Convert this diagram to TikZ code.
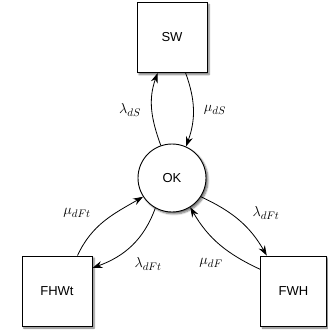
\documentclass[tikz,border=0pt]{standalone}
\usepackage{fontspec}
\setsansfont{Liberation Sans}
\usetikzlibrary{arrows.meta,shadows.blur}
\tikzset{
  statebox/.style={draw, fill=white, line width=0.9pt, minimum width=70pt, minimum height=70pt, inner sep=0pt,
    font=\sffamily\fontsize{13}{15}\selectfont,
    blur shadow={shadow xshift=2pt, shadow yshift=-2pt, shadow blur steps=6, shadow opacity=55}},
  statecirc/.style={draw, fill=white, circle, line width=0.9pt, minimum size=68pt, inner sep=0pt,
    font=\sffamily\fontsize{13}{15}\selectfont,
    blur shadow={shadow xshift=2pt, shadow yshift=-2pt, shadow blur steps=6, shadow opacity=55}},
  trans/.style={line width=0.8pt, -{Stealth[length=10pt,width=7pt]}},
  lbl/.style={font=\fontsize{15}{18}\selectfont, inner sep=0pt}
}
\begin{document}
\begin{tikzpicture}[x=1pt,y=1pt]
\useasboundingbox (0,0) rectangle (328,333);
\node[statebox] (sw) at (172,295.5) {SW};
\node[statecirc] (ok) at (172,155) {OK};
\node[statebox] (fhwt) at (57,42) {FHWt};
\node[statebox, minimum width=66pt] (fwh) at (293.5,42) {FWH};
\draw[trans] (ok.109) to[out=110,in=-110] (sw.248);
\draw[trans] (sw.-69) to[out=-70,in=70] (ok.66);
\draw[trans] (fhwt.60) to[out=65,in=210] (ok.213);
\draw[trans] (ok.241) to[out=-110,in=20] (fhwt.33);
\draw[trans] (ok.-33) to[out=-25,in=120] (fwh.127);
\draw[trans] (fwh.147) to[out=155,in=-60] (ok.-58);
\node[lbl] (l1) at (130,223) {$\lambda_{dS}$};
\node[lbl] (l2) at (215,223) {$\mu_{dS}$};
\node[lbl] (l3) at (77,120) {$\mu_{dFt}$};
\node[lbl] (l4) at (148,69) {$\lambda_{dFt}$};
\node[lbl] (l5) at (266,120) {$\lambda_{dFt}$};
\node[lbl] (l6) at (211,70) {$\mu_{dF}$};
\end{tikzpicture}
\end{document}
